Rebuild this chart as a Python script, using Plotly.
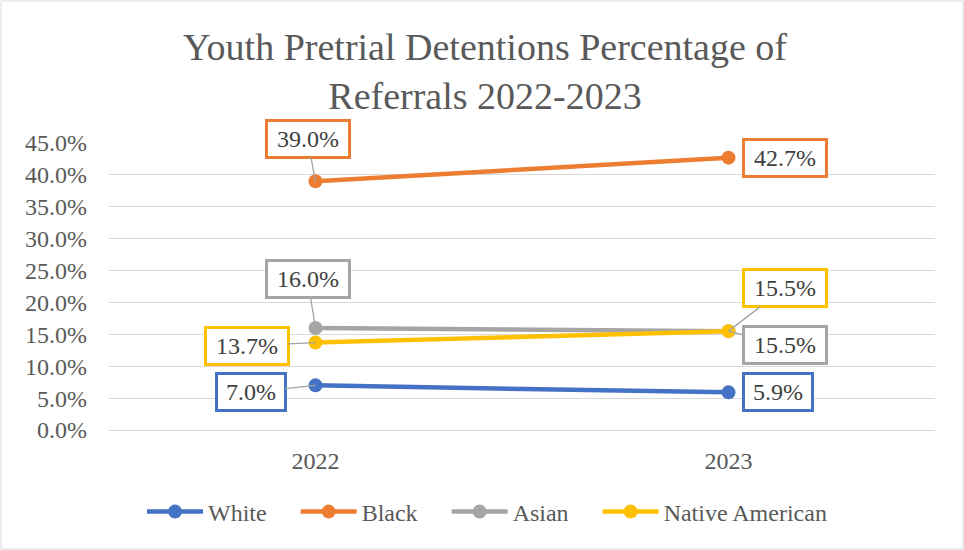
import plotly.graph_objects as go

years = ["2022", "2023"]
series_names = ["White", "Black", "Asian", "Native American"]
white = [0.070, 0.059]
black = [0.390, 0.427]
asian = [0.160, 0.155]
native = [0.137, 0.155]
y_ticks = [0.0, 0.05, 0.10, 0.15, 0.20, 0.25, 0.30, 0.35, 0.40, 0.45]

values = {"White": white, "Black": black, "Asian": asian, "Native American": native}
colors = {"White": "#4472C4", "Black": "#ED7D31", "Asian": "#A5A5A5", "Native American": "#FFC000"}

# label box offsets (pixels) relative to the point: (ax, ay, show_leader)
label_style = {
    ("White", 0): (-65, 7, True),
    ("White", 1): (49, 0, False),
    ("Black", 0): (-8, -42, True),
    ("Black", 1): (56, 0, False),
    ("Asian", 0): (-8, -49, True),
    ("Asian", 1): (56, 14, True),
    ("Native American", 0): (-69, 3, True),
    ("Native American", 1): (56, -43, True),
}

FONT = "Liberation Serif"
GRAY_TXT = "#595959"
NBSP = "\u00a0"
legend_pad = {"White": 4, "Black": 4, "Asian": 4, "Native American": 0}

fig = go.Figure()
for name in series_names:
    fig.add_trace(go.Scatter(
        x=years, y=values[name], name=name + NBSP * legend_pad[name], mode="lines+markers",
        line=dict(color=colors[name], width=4.5),
        marker=dict(color=colors[name], size=14),
    ))

annotations = []
for name in series_names:
    for i, yr in enumerate(years):
        v = values[name][i]
        txt = f"{v*100:.1f}%"
        ax, ay, leader = label_style[(name, i)]
        common = dict(
            x=i, y=v, xref="x", yref="y", text=txt,
            font=dict(family=FONT, size=24, color="#404040"),
            bgcolor="white", bordercolor=colors[name], borderwidth=3,
            borderpad=4, width=14 * len(txt) + 2, height=26,
        )
        if leader:
            annotations.append(dict(
                **common, showarrow=True, ax=ax, ay=ay, axref="pixel", ayref="pixel",
                arrowhead=0, arrowwidth=1.3, arrowcolor="#A5A5A5", standoff=0,
            ))
        else:
            annotations.append(dict(**common, showarrow=False, xshift=ax, yshift=-ay))

W, H = 964, 550
ml, mr, mt, mb = 109, 29, 143, 120
pw, ph = W - ml - mr, H - mt - mb

fig.update_layout(
    width=W, height=H,
    margin=dict(l=ml, r=mr, t=mt, b=mb),
    paper_bgcolor="white", plot_bgcolor="white",
    title=dict(
        text="Youth Pretrial Detentions Percentage of<br>Referrals 2022-2023",
        x=485 / W, xref="container", xanchor="center",
        y=1 - 60 / H, yref="container", yanchor="top",
        font=dict(family=FONT, size=38, color=GRAY_TXT),
    ),
    xaxis=dict(
        type="category", range=[-0.5, 1.5], showgrid=False, showline=False,
        tickfont=dict(family=FONT, size=24, color=GRAY_TXT), ticks="",
        ticklabelstandoff=14,
    ),
    yaxis=dict(
        range=[0, 0.45], tickvals=y_ticks, tickformat=".1%",
        showgrid=True, gridcolor="#D9D9D9", gridwidth=1,
        zeroline=True, zerolinecolor="#D9D9D9", zerolinewidth=1,
        showline=False, ticks="",
        tickfont=dict(family=FONT, size=24, color=GRAY_TXT),
        ticklabelstandoff=21,
    ),
    legend=dict(
        orientation="h", xref="container", x=487 / W, xanchor="center",
        yref="container", y=1 - 512 / H, yanchor="middle",
        font=dict(family=FONT, size=24, color=GRAY_TXT),
        itemwidth=56, traceorder="normal",
    ),
    annotations=annotations,
    shapes=[dict(
        type="rect", xref="paper", yref="paper",
        x0=-(ml - 1) / pw, x1=1 + (mr - 1) / pw,
        y0=-(mb - 1) / ph, y1=1 + (mt - 1) / ph,
        line=dict(color="#D9D9D9", width=1), fillcolor="rgba(0,0,0,0)",
        layer="below",
    )],
)

fig.write_html("out.html", config={"displayModeBar": False},
               post_script="document.body.style.margin='0';")
